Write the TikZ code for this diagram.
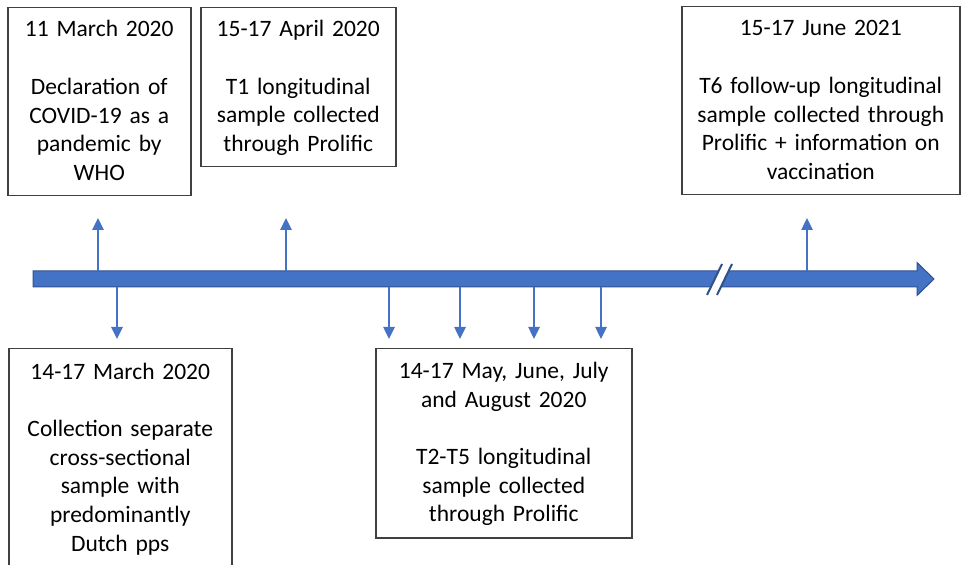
\documentclass[tikz,border=0pt]{standalone}
\usepackage{fontspec}
\setmainfont{Carlito}
\usetikzlibrary{arrows.meta}
\definecolor{tlblue}{HTML}{4472C4}
\definecolor{tledge}{HTML}{2F528F}
\definecolor{boxline}{HTML}{404040}
\newcommand{\tstrut}{\rule{0pt}{14.5pt}}
\newcommand{\bstrut}{\rule[-7.5pt]{0pt}{0pt}}

\begin{document}
\begin{tikzpicture}[
  x=0.5pt, y=-0.5pt,
  event/.style={rectangle, draw=boxline, line width=0.75pt, anchor=north west, align=center,
    inner xsep=2pt, inner ysep=0pt, font=\fontsize{11.75pt}{14.35pt}\selectfont},
  tick/.style={draw=tlblue, line width=1.25pt, -{Triangle[width=5.5pt,length=6pt]}},
  timebar/.style={fill=tlblue, draw=tledge, line width=0.5pt}
]
\useasboundingbox (0,0) rectangle (962,565);

% Events above the time line
\node[event, text width=87.5pt, minimum width=91.5pt, minimum height=94pt] (mar11) at (7,7)
  {\tstrut 11 March 2020\\[14.35pt]Declaration of\\COVID-19 as a\\pandemic by\\WHO\bstrut};
\node[event, text width=93.5pt, minimum width=97.5pt, minimum height=79.5pt] (apr) at (200,7)
  {\tstrut 15-17 April 2020\\[14.35pt]T1 longitudinal\\sample collected\\through Prolific\bstrut};
\node[event, text width=135pt, minimum width=139pt, minimum height=94pt] (jun21) at (681,6)
  {\tstrut 15-17 June 2021\\[14.35pt]T6 follow-up longitudinal\\sample collected through\\Prolific + information on\\vaccination\bstrut};

% Events below the time line
\node[event, text width=107.5pt, minimum width=111.5pt, minimum height=109.5pt] (mar14) at (8,348)
  {\tstrut 14-17 March 2020\\[14.35pt]Collection separate\\cross-sectional\\sample with\\predominantly\\Dutch pps\bstrut};
\node[event, text width=124pt, minimum width=128pt, minimum height=94.5pt] (mayaug) at (375,348)
  {\tstrut 14-17 May, June, July\\and August 2020\\[14.35pt]T2-T5 longitudinal\\sample collected\\through Prolific\bstrut};

% Time line with break
\draw[timebar] (33,271) -- (917,271) -- (917,262.5) -- (934,279) -- (917,295.5) -- (917,287) -- (33,287) -- cycle;
\fill[white] (707,295) -- (722,264) -- (732,264) -- (717,295) -- cycle;
\draw[tledge, line width=1pt] (707,295) -- (722,264) (717,295) -- (732,264);

% Ticks up
\coordinate (u1) at (98,271);
\coordinate (u2) at (286,271);
\coordinate (u3) at (807,271);
\draw[tick] (u1) -- ++(0,-53);
\draw[tick] (u2) -- ++(0,-53);
\draw[tick] (u3) -- ++(0,-53);

% Ticks down
\coordinate (d1) at (117,287);
\coordinate (d2) at (389,287);
\coordinate (d3) at (460,287);
\coordinate (d4) at (534,287);
\coordinate (d5) at (601,287);
\draw[tick] (d1) -- ++(0,52);
\draw[tick] (d2) -- ++(0,52);
\draw[tick] (d3) -- ++(0,52);
\draw[tick] (d4) -- ++(0,52);
\draw[tick] (d5) -- ++(0,52);
\end{tikzpicture}
\end{document}
